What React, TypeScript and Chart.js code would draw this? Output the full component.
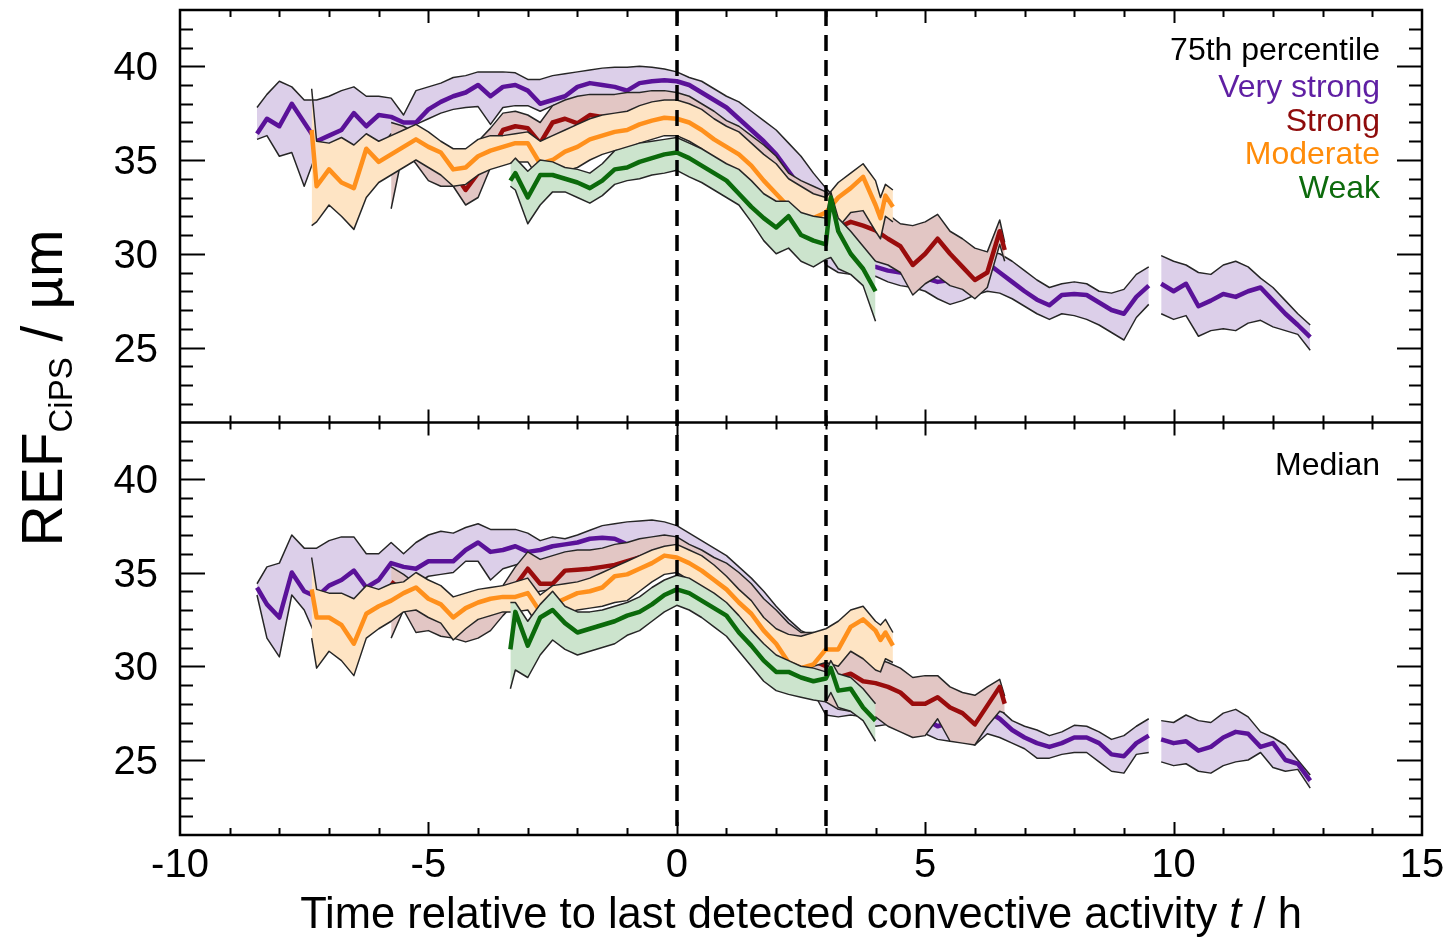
import React, { useEffect, useRef } from "react";
import { Chart, registerables } from "chart.js";

Chart.register(...registerables);

// ---------- time grids (hours relative to last detected convection) ----------
const PX = [-8.45,-8.25,-8,-7.75, -7.5,-7.25,-7,-6.75, -6.5,-6.25,-6,-5.75, -5.5,-5.25,-5,-4.75,
  -4.5,-4.25,-4,-3.75, -3.5,-3.25,-3,-2.75, -2.5,-2.25,-2,-1.75, -1.5,-1.25,-1,-0.75,
  -0.5,-0.25,0,0.25, 0.5,0.75,1,1.25, 1.5,1.75,2,2.25, 2.5,2.75,3,3.25,
  3.5,3.75,4,4.25, 4.5,4.75,5,5.25, 5.5,5.75,6,6.25, 6.5,6.75,7,7.25,
  7.5,7.75,8,8.25, 8.5,8.75,9,9.25, 9.5,9.6,9.75,10, 10.25,10.5,10.75,11,
  11.25,11.5,11.75,12, 12.25,12.5,12.75];
const RX = [-5.75,-5.5,-5.25,-5, -4.75,-4.5,-4.25,-4, -3.75,-3.5,-3.25,-3, -2.75,-2.5,-2.25,-2,
  -1.75,-1.5,-1.25,-1, -0.75,-0.5,-0.25,0, 0.25,0.5,0.75,1, 1.25,1.5,1.75,2,
  2.25,2.5,2.75,3, 3.25,3.5,3.75,4, 4.25,4.5,4.75,5, 5.25,5.5,5.75,6, 6.25,6.5,6.6];
const OX = [-7.35,-7.25,-7,-6.75, -6.5,-6.25,-6,-5.75, -5.5,-5.25,-5,-4.75, -4.5,-4.25,-4,-3.75,
  -3.5,-3.25,-3,-2.75, -2.5,-2.25,-2,-1.75, -1.5,-1.25,-1,-0.75, -0.5,-0.25,0,0.25,
  0.5,0.75,1,1.25, 1.5,1.75,2,2.25, 2.5,2.75,3,3.25, 3.5,3.75,4,4.1, 4.2,4.35];
const GX = [-3.35,-3.25,-3,-2.75, -2.5,-2.25,-2,-1.75, -1.5,-1.25,-1,-0.75, -0.5,-0.25,0,0.25,
  0.5,0.75,1,1.25, 1.5,1.75,2,2.25, 2.5,2.75,3,3.1, 3.25,3.5,3.75,4];

// ---------- 75th percentile panel ----------
const PT_MED = [36.4,37.2,36.8,38.0, 37.0,36.0,36.3,36.6, 37.5,36.8,37.4,37.3, 37.0,37.0,37.7,38.1,
  38.4,38.6,39.0,38.4, 38.9,39.0,38.7,38.0, 38.2,38.4,38.9,39.1, 39.0,38.9,38.7,39.1,
  39.2,39.25,39.2,39.0, 38.6,38.2,37.8,37.2, 36.6,36.0,35.3,34.4, 33.5,32.6,30.8,29.8,
  29.6,29.4,29.3,29.1, 29.0,28.9,28.7,28.5, 28.6,29.0,29.3,29.5, 29.0,28.5,28.0,27.55,
  27.25,27.8,27.85,27.8, 27.4,27.0,26.8,27.7, 28.3,null,28.4,28.0, 28.4,27.2,27.5,27.85,
  27.7,28.0,28.2,27.5, 26.8,26.2,25.55];
const PT_UP = [37.8,38.5,39.2,38.9, 38.2,38.2,38.4,38.7, 38.9,38.4,38.4,38.3, 37.4,38.7,38.9,39.1,
  39.4,39.5,39.7,39.7, 39.7,39.65,39.3,39.3, 39.5,39.6,39.7,39.8, 39.9,39.95,39.95,40.0,
  39.95,39.85,39.7,39.4, 39.2,38.8,38.4,38.1, 37.6,37.1,36.6,35.9, 35.2,34.3,33.5,32.8,
  32.6,32.3,31.8,31.5, 31.2,30.9,30.7,30.5, 30.4,30.3,30.2,30.1, 30.0,29.6,29.1,28.6,
  28.2,28.4,28.5,28.4, 28.0,27.9,28.1,28.9, 29.3,null,29.9,29.6, 29.4,29.0,28.9,29.4,
  29.6,29.3,28.7,28.2, 27.5,26.8,26.2];
const PT_LO = [36.1,36.3,35.2,35.4, 33.6,35.4,35.4,35.9, 35.3,35.8,35.6,36.4, 36.3,36.9,37.2,37.5,
  37.7,37.8,37.85,36.9, 37.8,37.9,37.9,37.6, 37.9,38.1,38.3,38.4, 38.4,38.45,38.5,38.5,
  38.6,38.6,38.5,38.3, 37.9,37.5,37.0,36.4, 35.7,35.0,34.2,33.4, 32.6,31.0,29.4,29.0,
  28.9,28.6,28.8,28.5, 28.3,28.2,28.0,27.6, 27.3,27.5,27.8,28.0, 27.9,27.6,27.2,26.8,
  26.5,26.8,26.7,26.5, 26.2,25.8,25.4,26.6, 27.3,null,26.8,26.5, 26.7,25.6,25.9,26.0,
  25.9,26.3,26.45,26.1, 25.9,25.7,24.85];

const RT_MED = [35.8,36.3,35.8,34.9, 35.0,34.4,33.4,34.3, 35.4,36.6,36.8,36.7, 35.9,37.0,37.2,36.95,
  37.4,37.3,37.3,37.4, 37.6,37.7,37.7,37.6, 37.4,37.1,36.6,36.1, 35.5,34.9,34.2,33.5,
  32.8,32.2,31.7,31.3, 31.4,31.7,31.5,31.25, 30.8,30.4,29.4,30.0, 30.8,30.0,29.3,28.6,
  29.0,31.2,30.2];
const RT_UP = [37.0,36.8,36.4,35.8, 35.6,35.2,35.0,36.0, 36.7,37.5,37.6,37.4, 37.0,37.9,38.2,38.4,
  38.5,38.5,38.5,38.6, 38.6,38.7,38.7,38.6, 38.4,38.0,37.6,37.1, 36.8,36.3,35.8,35.2,
  34.3,33.9,33.6,33.3, 32.9,32.7,32.5,32.4, 32.1,31.6,31.5,31.7, 32.1,31.2,30.8,30.3,
  30.1,31.8,30.6];
const RT_LO = [32.4,35.6,34.8,33.9, 33.6,33.6,32.6,33.0, 34.6,35.5,35.6,35.4, 35.0,35.6,36.4,36.0,
  36.5,36.5,36.6,36.7, 36.8,36.9,36.9,36.8, 36.5,36.1,35.6,35.0, 34.4,33.8,33.1,32.4,
  31.8,31.2,30.7,30.2, 29.9,30.0,29.9,29.6, 29.4,29.0,27.8,28.4, 28.8,28.3,28.1,27.6,
  28.2,30.5,29.6];

const OT_MED = [36.6,33.6,34.5,33.8, 33.5,35.6,34.9,35.3, 35.7,36.1,35.7,35.4, 34.5,34.6,35.2,35.5,
  35.7,35.9,35.9,34.8, 35.0,35.45,35.7,36.1, 36.3,36.5,36.6,36.9, 37.1,37.25,37.2,37.0,
  36.6,36.1,35.7,35.3, 34.7,33.9,33.2,32.5, 32.0,31.9,32.2,33.0, 33.5,34.1,32.6,31.9,
  33.1,32.5];
const OT_UP = [38.8,36.0,35.9,36.2, 35.8,36.4,36.0,36.3, 36.6,36.9,36.5,36.0, 35.6,35.6,36.1,36.3,
  36.3,36.4,36.5,36.0, 36.3,36.6,36.9,37.2, 37.4,37.5,37.6,37.9, 38.1,38.2,38.2,38.0,
  37.7,37.2,36.8,36.5, 35.9,35.3,34.8,34.0, 33.6,33.2,33.0,33.8, 34.3,34.8,33.9,33.0,
  33.7,33.4];
const OT_LO = [31.5,31.7,32.6,32.0, 31.3,33.0,33.8,34.2, 34.6,35.0,34.6,34.2, 33.6,33.7,34.2,34.5,
  34.7,34.9,34.9,33.9, 34.0,34.4,34.6,35.0, 35.3,35.5,35.6,35.9, 36.1,36.3,36.3,36.0,
  35.6,35.1,34.7,34.3, 33.6,32.8,32.1,31.5, 31.0,30.6,30.6,31.4, 32.2,32.3,31.2,30.8,
  32.0,31.7];

const GT_MED = [33.9,34.3,33.0,34.2, 34.2,34.0,33.8,33.5, 33.9,34.5,34.6,34.9, 35.1,35.3,35.4,35.1,
  34.7,34.3,33.9,33.2, 32.5,31.9,31.4,32.0, 31.0,30.7,30.5,33.0, 31.2,30.0,29.2,28.0];
const GT_UP = [34.8,35.1,34.4,35.0, 34.9,34.6,34.5,34.3, 34.8,35.5,35.7,35.9, 36.0,36.1,36.2,35.9,
  35.6,35.2,34.8,34.5, 33.9,33.2,32.8,32.8, 32.2,32.0,31.9,33.3, 31.9,31.2,30.4,29.6];
const GT_LO = [33.6,33.4,31.6,32.6, 33.3,33.3,33.0,32.7, 33.1,33.7,33.9,34.0, 34.2,34.3,34.45,34.1,
  33.8,33.4,33.0,32.6, 31.7,30.7,30.0,30.3, 29.6,29.3,29.7,29.8, 29.2,28.9,28.3,26.4];

// ---------- median panel ----------
const PB_MED = [34.2,33.3,32.6,35.0, 34.0,33.7,34.3,34.6, 35.1,34.2,34.6,35.5, 35.3,35.2,35.6,35.6,
  35.6,36.2,36.6,36.1, 36.2,36.4,36.1,36.2, 36.4,36.5,36.6,36.8, 36.85,36.8,36.5,36.6,
  36.7,36.7,36.6,36.3, 35.9,35.5,35.2,34.7, 34.1,33.4,32.8,32.0, 31.4,30.8,29.8,28.8,
  28.6,28.3,28.0,27.9, 27.7,27.4,27.2,26.8, 27.0,27.2,27.4,27.6, 27.2,26.6,26.2,25.9,
  25.7,25.9,26.2,26.2, 25.9,25.3,25.2,25.9, 26.3,null,26.1,25.9, 26.0,25.5,25.7,26.2,
  26.5,26.4,25.7,25.9, 25.0,24.8,23.9];
const PB_UP = [34.4,35.3,35.5,37.0, 36.3,36.3,36.7,36.9, 36.9,36.0,36.0,36.6, 36.0,36.6,37.0,37.2,
  37.1,37.4,37.6,37.3, 37.3,37.3,37.1,36.7, 36.9,36.8,37.0,37.25, 37.5,37.6,37.7,37.75,
  37.8,37.7,37.5,37.1, 36.7,36.3,35.9,35.3, 34.7,34.0,33.2,32.5, 31.9,31.6,31.3,30.4,
  30.2,30.0,29.8,29.6, 29.4,29.1,29.0,28.9, 28.6,28.3,28.2,28.0, 27.7,27.1,26.8,26.6,
  26.3,26.5,26.85,26.8, 26.5,26.1,26.3,26.8, 27.2,null,27.1,27.0, 27.4,27.1,27.0,27.5,
  27.7,27.3,26.5,26.2, 25.8,25.0,24.2];
const PB_LO = [33.8,31.5,30.5,33.8, 33.0,31.5,33.0,33.2, 32.8,33.5,33.8,34.2, 34.3,34.4,34.8,34.9,
  35.0,35.6,35.6,34.6, 35.2,35.4,35.6,35.4, 35.8,35.8,35.9,36.0, 36.1,36.2,36.3,36.4,
  36.5,36.5,36.4,36.0, 35.6,35.1,34.6,33.9, 33.2,32.4,31.6,30.8, 29.9,28.6,27.4,27.3,
  27.4,27.3,26.8,26.9, 26.6,26.5,26.4,26.1, 26.0,26.2,25.8,26.4, 26.2,25.9,25.6,25.1,
  25.1,25.3,25.4,25.4, 24.9,24.4,24.3,25.3, 25.4,null,24.9,24.7, 24.8,24.4,24.3,24.7,
  24.9,25.0,25.4,24.6, 24.4,24.5,23.5];

const RB_MED = [34.5,34.0,33.4,33.0, 32.9,32.8,32.7,32.7, 32.8,33.3,34.3,35.2, 34.4,34.4,35.1,35.15,
  35.2,35.3,35.4,35.6, 35.8,36.0,36.1,36.0, 35.7,35.3,34.8,34.2, 33.6,32.9,32.2,31.5,
  30.9,30.5,30.3,30.0, 29.4,29.6,29.2,29.1, 28.9,28.6,28.0,28.0, 28.35,27.8,27.5,26.9,
  27.9,28.9,28.0];
const RB_UP = [35.3,34.9,34.4,34.1, 33.9,33.6,33.7,33.9, 34.0,34.3,35.3,36.1, 35.7,35.9,36.1,36.2,
  36.2,36.3,36.5,36.6, 36.8,36.9,37.0,36.9, 36.5,36.2,35.8,35.5, 35.0,34.4,33.6,33.0,
  32.3,31.8,31.8,31.6, 31.0,30.8,30.6,30.4, 30.2,29.9,29.4,29.5, 29.5,28.9,28.6,28.45,
  28.9,29.3,28.4];
const RB_LO = [31.5,33.0,31.8,31.9, 31.6,31.5,31.3,31.5, 31.9,32.7,33.4,33.8, 34.0,34.1,34.1,34.2,
  34.3,34.4,34.6,34.8, 35.0,35.2,35.3,35.2, 34.9,34.5,34.0,33.4, 32.7,31.9,31.1,30.3,
  29.6,29.1,28.6,28.1, 27.7,27.6,27.2,27.3, 26.8,26.5,26.2,26.3, 27.2,26.0,25.9,25.8,
  26.8,27.6,27.5];

const OB_MED = [34.1,32.6,32.6,32.2, 31.2,32.8,33.2,33.5, 33.9,34.2,33.6,33.3, 32.6,33.1,33.4,33.6,
  33.7,33.7,33.9,32.9, 33.3,33.6,33.9,34.0, 34.2,34.8,34.9,35.2, 35.5,35.9,35.8,35.5,
  35.1,34.6,34.1,33.4, 32.8,31.9,31.2,30.2, 29.9,30.1,30.9,30.9, 32.1,32.5,31.9,31.4,
  31.8,31.1];
const OB_UP = [35.8,34.1,33.9,33.9, 33.6,34.3,34.1,34.4, 34.5,35.0,34.6,34.3, 33.7,33.9,34.1,34.2,
  34.3,34.5,34.7,33.8, 34.3,34.4,34.5,34.7, 35.0,35.3,35.6,35.9, 36.2,36.4,36.5,36.2,
  35.9,35.4,34.8,34.1, 33.5,32.6,32.0,31.7, 31.6,31.8,32.0,32.4, 33.0,33.2,32.4,32.2,
  32.5,31.8];
const OB_LO = [31.5,29.9,30.8,30.3, 29.5,31.5,32.0,32.4, 32.9,33.0,32.6,32.3, 31.4,32.0,32.5,32.7,
  32.9,32.9,33.0,32.0, 32.5,32.8,33.0,33.1, 33.2,33.4,33.5,34.0, 34.5,34.9,35.0,34.6,
  34.2,33.7,33.3,32.6, 31.9,31.1,30.5,29.7, 29.6,30.0,30.2,30.0, 30.8,30.4,29.8,29.7,
  30.4,30.2];

const GB_MED = [30.9,32.9,31.1,32.6, 33.0,32.3,31.8,32.0, 32.2,32.4,32.7,32.9, 33.3,33.8,34.1,33.9,
  33.5,33.1,32.7,31.8, 31.1,30.3,29.7,29.7, 29.4,29.2,29.35,29.9, 28.7,28.8,27.8,27.1];
const GB_UP = [33.4,33.4,32.4,33.3, 34.0,33.2,32.9,32.9, 33.0,33.2,33.4,33.7, 34.2,34.6,34.85,34.7,
  34.3,33.9,33.4,32.7, 31.9,31.2,30.6,30.3, 30.0,29.9,29.7,30.3, 29.6,29.4,28.8,28.0];
const GB_LO = [28.8,29.8,29.4,30.6, 31.4,30.9,30.6,30.8, 31.0,31.2,31.65,31.9, 32.4,32.9,33.25,33.0,
  32.6,32.1,31.6,30.8, 30.0,29.2,28.7,28.5, 28.35,28.2,28.1,28.6, 27.8,27.6,27.1,26.0];

// ---------- labels ----------
const X_TICK_LABELS = [-10, -5, 0, 5, 10, 15];
const Y_TICK_LABELS = [25, 30, 35, 40];
const DASHED_AT = [0, 3];
const TOP_TITLE = "75th percentile";
const BOTTOM_TITLE = "Median";
const CATEGORY_NAMES = ["Very strong", "Strong", "Moderate", "Weak"];

const GROUPS = [
  { x: PX, top: [PT_UP, PT_LO, PT_MED], bot: [PB_UP, PB_LO, PB_MED], line: "#5a1299", fill: "#dccfe9", text: "#5f1fa3" },
  { x: RX, top: [RT_UP, RT_LO, RT_MED], bot: [RB_UP, RB_LO, RB_MED], line: "#9a0c0c", fill: "#e2c6c4", text: "#8e0b0b" },
  { x: OX, top: [OT_UP, OT_LO, OT_MED], bot: [OB_UP, OB_LO, OB_MED], line: "#ff901c", fill: "#fee4c4", text: "#ff8c0a" },
  { x: GX, top: [GT_UP, GT_LO, GT_MED], bot: [GB_UP, GB_LO, GB_MED], line: "#0b6a0b", fill: "#cce4cd", text: "#0d6b0d" },
];

const FONT = '"Liberation Sans", Arial, Helvetica, sans-serif';
const EDGE = "#262626";

function pts(xs: number[], ys: (number | null)[]) {
  return xs.map((x, i) => ({ x, y: ys[i] }));
}

const overlay = {
  id: "overlay",
  afterDatasetsDraw(chart: any) {
    const ctx: CanvasRenderingContext2D = chart.ctx;
    const xs = chart.scales.x;
    const yt = chart.scales.yTop;
    const yb = chart.scales.yBot;
    const ca = chart.chartArea;
    ctx.save();
    ctx.strokeStyle = "#000";

    // dashed reference lines
    ctx.lineWidth = 3.5;
    ctx.setLineDash([16, 9]);
    DASHED_AT.forEach((t) => {
      const p = Math.round(xs.getPixelForValue(t));
      ctx.beginPath();
      ctx.moveTo(p, ca.top);
      ctx.lineTo(p, ca.bottom);
      ctx.stroke();
    });
    ctx.setLineDash([]);

    // inward ticks
    ctx.lineWidth = 2;
    [yt, yb].forEach((ys: any) => {
      for (let v = 22; v <= 42; v++) {
        const p = Math.round(ys.getPixelForValue(v)) + 0.5;
        const len = v % 5 === 0 ? 25 : 13;
        ctx.beginPath();
        ctx.moveTo(ca.left, p);
        ctx.lineTo(ca.left + len, p);
        ctx.moveTo(ca.right, p);
        ctx.lineTo(ca.right - len, p);
        ctx.stroke();
      }
      for (let t = -9; t <= 14; t++) {
        const p = Math.round(xs.getPixelForValue(t)) + 0.5;
        const len = t % 5 === 0 ? 13 : 7;
        ctx.beginPath();
        ctx.moveTo(p, ys.top);
        ctx.lineTo(p, ys.top + len);
        ctx.moveTo(p, ys.bottom);
        ctx.lineTo(p, ys.bottom - len);
        ctx.stroke();
      }
    });

    // frame + panel separator
    ctx.lineWidth = 2.5;
    ctx.strokeRect(ca.left, ca.top, ca.right - ca.left, ca.bottom - ca.top);
    ctx.beginPath();
    ctx.moveTo(ca.left, yt.bottom);
    ctx.lineTo(ca.right, yt.bottom);
    ctx.stroke();

    // tick labels
    ctx.fillStyle = "#000";
    ctx.font = `40px ${FONT}`;
    ctx.textBaseline = "alphabetic";
    ctx.textAlign = "right";
    [yt, yb].forEach((ys: any) => {
      Y_TICK_LABELS.forEach((v) => ctx.fillText(String(v), 158, ys.getPixelForValue(v) + 14));
    });
    ctx.textAlign = "center";
    X_TICK_LABELS.forEach((v) => ctx.fillText(String(v), xs.getPixelForValue(v), 877));

    // x-axis title with italic t
    const t1 = "Time relative to last detected convective activity ";
    const t2 = "t";
    const t3 = " / h";
    ctx.textAlign = "left";
    ctx.font = `43.5px ${FONT}`;
    const w1 = ctx.measureText(t1).width;
    const w3 = ctx.measureText(t3).width;
    ctx.font = `italic 43.5px ${FONT}`;
    const w2 = ctx.measureText(t2).width;
    const x0 = (ca.left + ca.right) / 2 - (w1 + w2 + w3) / 2;
    ctx.font = `43.5px ${FONT}`;
    ctx.fillText(t1, x0, 928);
    ctx.font = `italic 43.5px ${FONT}`;
    ctx.fillText(t2, x0 + w1, 928);
    ctx.font = `43.5px ${FONT}`;
    ctx.fillText(t3, x0 + w1 + w2, 928);

    // y-axis title (rotated) REF_CiPS / µm
    ctx.font = `57px ${FONT}`;
    const a = ctx.measureText("REF").width;
    const c = ctx.measureText(" / µm").width;
    ctx.font = `33px ${FONT}`;
    const b = ctx.measureText("CiPS").width;
    const total = a + b + c;
    ctx.save();
    ctx.translate(62, 388 + total / 2);
    ctx.rotate(-Math.PI / 2);
    ctx.font = `57px ${FONT}`;
    ctx.fillText("REF", 0, 0);
    ctx.font = `33px ${FONT}`;
    ctx.fillText("CiPS", a, 10);
    ctx.font = `57px ${FONT}`;
    ctx.fillText(" / µm", a + b, 0);
    ctx.restore();

    // in-panel legends
    ctx.textAlign = "right";
    ctx.font = `32px ${FONT}`;
    ctx.fillStyle = "#000";
    ctx.fillText(TOP_TITLE, 1380, 60);
    const baselines = [97, 131, 164, 198];
    CATEGORY_NAMES.forEach((name, i) => {
      ctx.fillStyle = GROUPS[i].text;
      ctx.fillText(name, 1380, baselines[i]);
    });
    ctx.fillStyle = "#000";
    ctx.fillText(BOTTOM_TITLE, 1380, 475);

    ctx.restore();
  },
};

export default function App() {
  const ref = useRef<HTMLCanvasElement>(null);
  useEffect(() => {
    document.body.style.margin = "0";
    const canvas = ref.current!;
    const datasets: any[] = [];
    (["yTop", "yBot"] as const).forEach((axis, pi) => {
      GROUPS.forEach((g, gi) => {
        const base = (3 - gi) * 10;
        const [up, lo, med] = pi === 0 ? g.top : g.bot;
        const upIdx = datasets.length;
        datasets.push({
          data: pts(g.x, up), yAxisID: axis, borderColor: EDGE, borderWidth: 1.5,
          backgroundColor: g.fill, fill: upIdx + 1, order: base + 2, pointRadius: 0,
          borderJoinStyle: "round",
        });
        datasets.push({
          data: pts(g.x, lo), yAxisID: axis, borderColor: EDGE, borderWidth: 1.5,
          fill: false, order: base + 1, pointRadius: 0, borderJoinStyle: "round",
        });
        datasets.push({
          data: pts(g.x, med), yAxisID: axis, borderColor: g.line, borderWidth: 4.5,
          fill: false, order: base, pointRadius: 0, borderJoinStyle: "round",
        });
      });
    });

    const chart = new Chart(canvas, {
      type: "line",
      data: { datasets },
      options: {
        animation: false,
        responsive: false,
        devicePixelRatio: 1,
        events: [],
        layout: { padding: { left: 180, right: 25, top: 10, bottom: 102 } },
        plugins: { legend: { display: false }, tooltip: { enabled: false } },
        elements: { point: { radius: 0 }, line: { tension: 0 } },
        scales: {
          x: { type: "linear", min: -10, max: 15, display: false },
          yTop: { type: "linear", position: "left", min: 21, max: 43, display: false, stack: "panels", stackWeight: 1, weight: 2 },
          yBot: { type: "linear", position: "left", min: 21, max: 43, display: false, stack: "panels", stackWeight: 1, weight: 1 },
        },
      } as any,
      plugins: [overlay],
    });
    return () => chart.destroy();
  }, []);
  return <canvas ref={ref} width={1447} height={937} style={{ display: "block", width: 1447, height: 937 }} />;
}
